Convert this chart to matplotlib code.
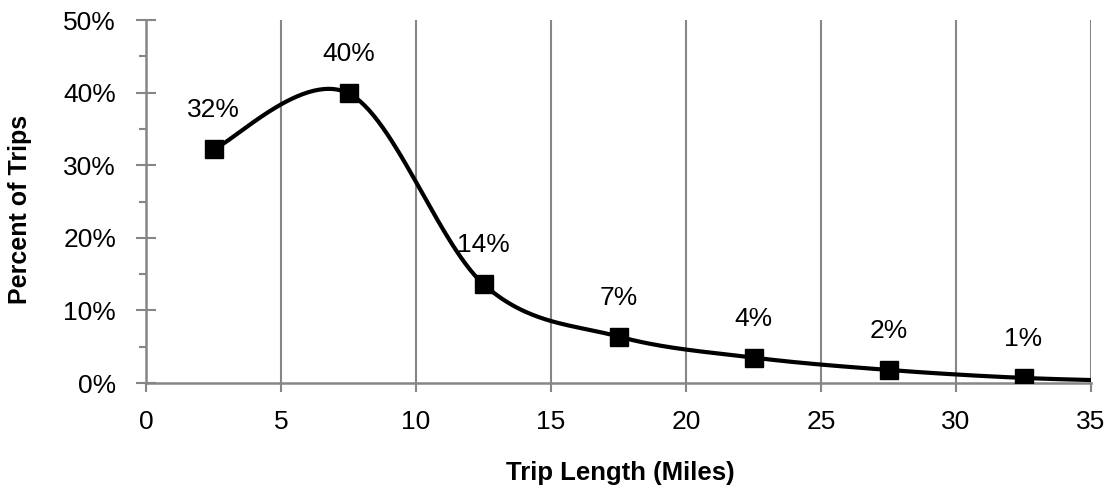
import numpy as np
import matplotlib.pyplot as plt
from matplotlib.ticker import MultipleLocator, FuncFormatter

# --- DATOS ---
trip_mid = [2.5, 7.5, 12.5, 17.5, 22.5, 27.5, 32.5, 37.5]   # punto medio del rango (millas)
pct_trips = [32.2, 39.9, 13.6, 6.4, 3.5, 1.8, 0.7, 0.2]      # % de viajes
point_labels = ["32%", "40%", "14%", "7%", "4%", "2%", "1%", ""]

GRAY = "#868686"
plt.rcParams['font.family'] = ['Liberation Sans', 'DejaVu Sans']


def smooth_curve(x, y, n=60):
    # curva suavizada tipo Excel (Catmull-Rom con Bezier cúbicas)
    x = np.asarray(x, float)
    y = np.asarray(y, float)
    P = np.column_stack([x, y])
    out = []
    for i in range(len(P) - 1):
        p0 = P[i - 1] if i > 0 else P[i]
        p1, p2 = P[i], P[i + 1]
        p3 = P[i + 2] if i + 2 < len(P) else P[i + 1]
        c1 = p1 + (p2 - p0) / 6.0
        c2 = p2 - (p3 - p1) / 6.0
        t = np.linspace(0, 1, n)[:, None]
        seg = ((1 - t)**3) * p1 + 3 * ((1 - t)**2) * t * c1 + 3 * (1 - t) * t**2 * c2 + t**3 * p2
        out.append(seg if i == 0 else seg[1:])
    seg = np.vstack(out)
    return seg[:, 0], seg[:, 1]


fig = plt.figure(figsize=(11.09, 4.93), dpi=100)
ax = fig.add_axes([0.1317, 0.2231, 0.8521, 0.7363])

sx, sy = smooth_curve(trip_mid, pct_trips)
ax.plot(sx, sy, color='black', lw=3, solid_capstyle='butt', zorder=3)
ax.plot(trip_mid, pct_trips, ls='none', marker='s', ms=13, color='black', zorder=4)

for xv, yv, lab in zip(trip_mid, pct_trips, point_labels):
    if lab:
        ax.annotate(lab, (xv, yv), xytext=(0, 28), textcoords='offset points',
                    ha='center', va='center', fontsize=19)

ax.set_xlim(0, 35)
ax.set_ylim(0, 50)
ax.xaxis.set_major_locator(MultipleLocator(5))
ax.yaxis.set_major_locator(MultipleLocator(10))
ax.yaxis.set_minor_locator(MultipleLocator(5))
ax.yaxis.set_major_formatter(FuncFormatter(lambda v, p: f"{v:.0f}%"))

ax.grid(True, axis='x', color=GRAY, lw=1.5)
ax.set_axisbelow(True)
for s in ['top', 'right']:
    ax.spines[s].set_visible(False)
for s in ['left', 'bottom']:
    ax.spines[s].set_color(GRAY)
    ax.spines[s].set_linewidth(1.8)

ax.tick_params(axis='x', direction='out', length=6.5, width=1.5, color=GRAY,
               labelsize=19, pad=13)
ax.tick_params(axis='y', which='major', direction='inout', length=15, width=1.5,
               color=GRAY, labelsize=19, pad=14)
ax.tick_params(axis='y', which='minor', direction='out', length=5, width=1.5, color=GRAY)

ax.set_xlabel("Trip Length (Miles)", fontsize=18.5, fontweight='bold')
ax.set_ylabel("Percent of Trips", fontsize=18, fontweight='bold')
ax.xaxis.set_label_coords(0.502, -0.215)
ax.yaxis.set_label_coords(-0.121, 0.477)

fig.savefig("out.png", dpi=100)
